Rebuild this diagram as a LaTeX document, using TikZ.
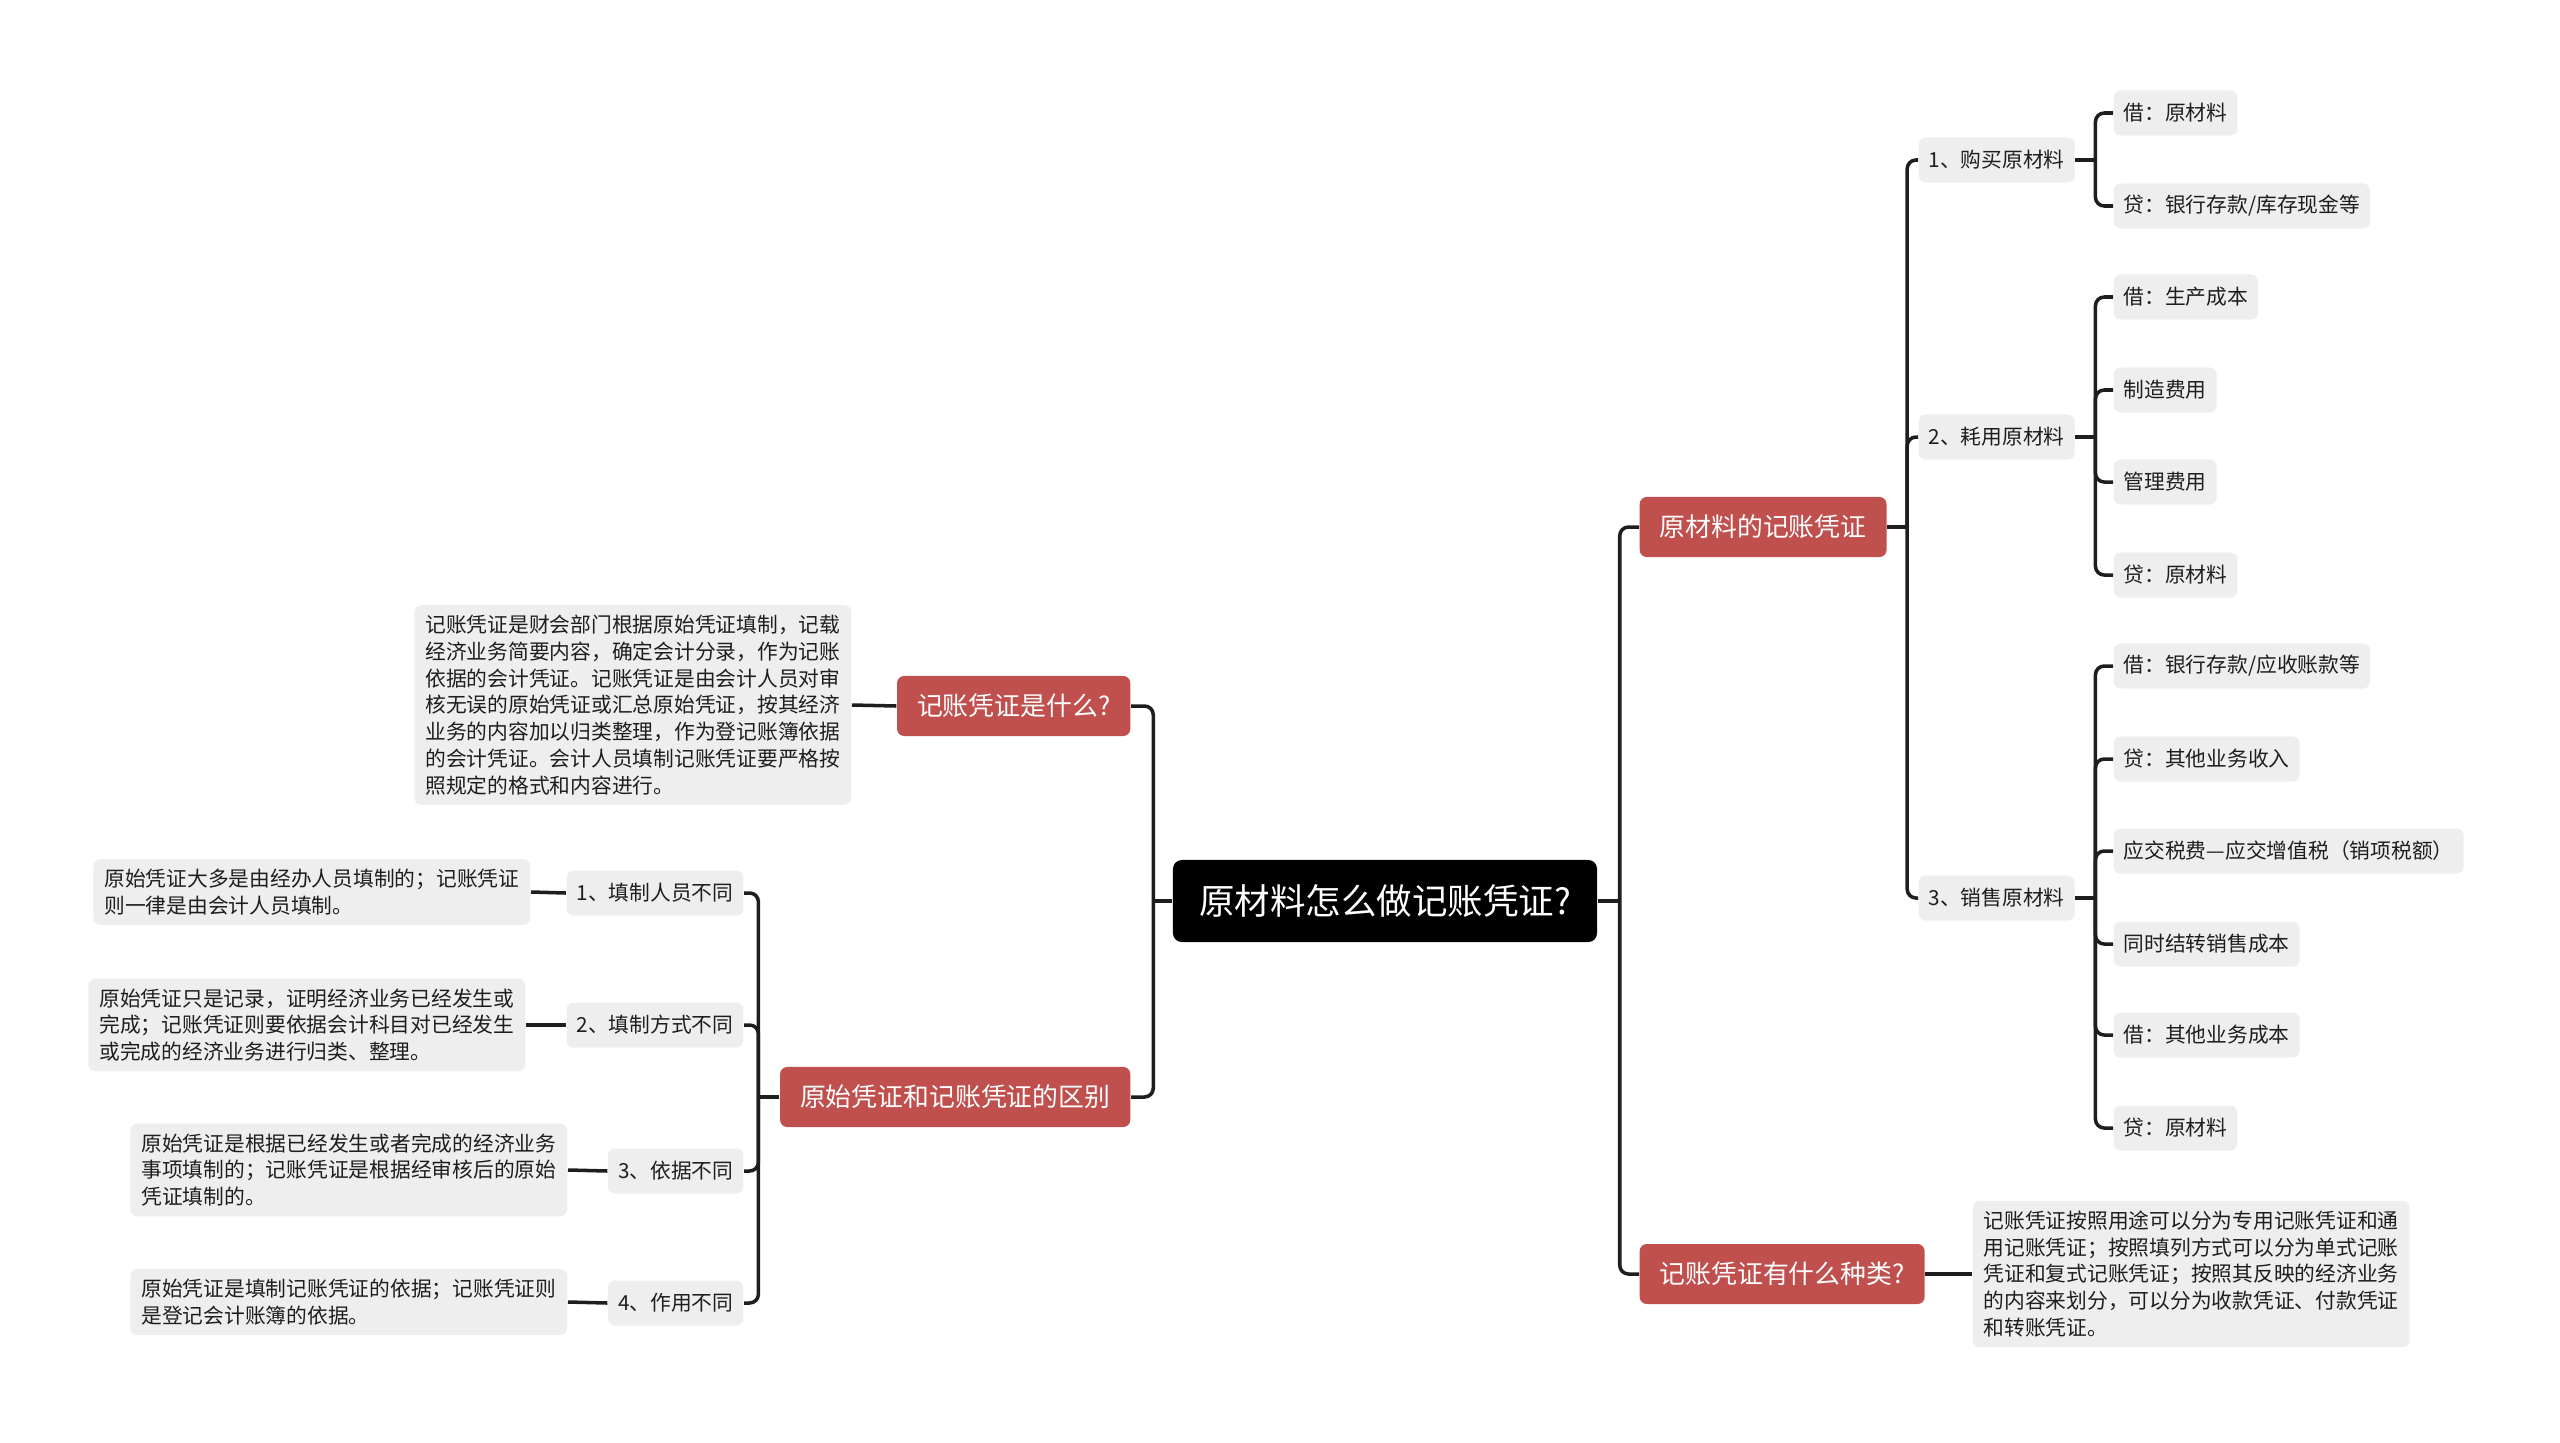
\documentclass[tikz,border=0pt]{standalone}
\usepackage{fontspec}
\setmainfont{Noto Sans CJK SC}
\definecolor{ink}{HTML}{1E1E1E}
\definecolor{rd}{HTML}{C0504D}
\definecolor{lf}{HTML}{EEEEEE}
\tikzset{
  leaf/.style={fill=lf,rounded corners=2pt,inner xsep=0.1cm,inner ysep=0.1cm,minimum height=0.45cm,font=\fontsize{5.9pt}{7.6pt}\selectfont,text=ink},
  desc/.style={leaf,align=left,inner xsep=0.11cm},
  mainb/.style={fill=rd,rounded corners=2pt,text=white,inner xsep=0.2cm,minimum height=0.6cm,font=\fontsize{7.35pt}{9pt}\selectfont},
  rootb/.style={fill=black,rounded corners=2.5pt,text=white,inner xsep=0.26cm,minimum height=0.82cm,font=\fontsize{10.1pt}{12pt}\selectfont},
  link/.style={line width=1pt,draw=ink,rounded corners=2.5pt}
}

\begin{document}
\begin{tikzpicture}[x=0.01cm,y=-0.01cm]
\useasboundingbox (0,0) rectangle (2560,1442);
% ---------------- root and main branches ----------------
\node[rootb] (root) at (1385,901) {原材料怎么做记账凭证?};
\node[mainb,anchor=east] (bwhat) at (1131,706) {记账凭证是什么?};
\node[mainb,anchor=east] (bdiff) at (1131,1097) {原始凭证和记账凭证的区别};
\node[mainb,anchor=west] (bacc) at (1639,527) {原材料的记账凭证};
\node[mainb,anchor=west] (bkind) at (1639,1274) {记账凭证有什么种类?};
\draw[link] (root.west) -- ++(-19,0) coordinate (jl);
\draw[link] (jl) |- (bwhat.east);
\draw[link] (jl) |- (bdiff.east);
\draw[link] (root.east) -- ++(22,0) coordinate (jr);
\draw[link] (jr) |- (bacc.west);
\draw[link] (jr) |- (bkind.west);
% ---------------- left: what is it ----------------
\node[desc,anchor=east] (whatd) at (852,705) {记账凭证是财会部门根据原始凭证填制，记载\\经济业务简要内容，确定会计分录，作为记账\\依据的会计凭证。记账凭证是由会计人员对审\\核无误的原始凭证或汇总原始凭证，按其经济\\业务的内容加以归类整理，作为登记账簿依据\\的会计凭证。会计人员填制记账凭证要严格按\\照规定的格式和内容进行。};
\draw[link] (bwhat.west) -- (whatd.east);
% ---------------- left: differences ----------------
\node[leaf,anchor=east] (d1) at (744,893) {1、填制人员不同};
\node[leaf,anchor=east] (d2) at (744,1025) {2、填制方式不同};
\node[leaf,anchor=east] (d3) at (744,1171) {3、依据不同};
\node[leaf,anchor=east] (d4) at (744,1303) {4、作用不同};
\draw[link] (bdiff.west) -- ++(-21,0) coordinate (jd);
\foreach \n in {d1,d2,d3,d4}{\draw[link] (jd) |- (\n.east);}
\node[desc,anchor=east] (d1t) at (531,892) {原始凭证大多是由经办人员填制的；记账凭证\\则一律是由会计人员填制。};
\node[desc,anchor=east] (d2t) at (526,1025) {原始凭证只是记录，证明经济业务已经发生或\\完成；记账凭证则要依据会计科目对已经发生\\或完成的经济业务进行归类、整理。};
\node[desc,anchor=east] (d3t) at (568,1170) {原始凭证是根据已经发生或者完成的经济业务\\事项填制的；记账凭证是根据经审核后的原始\\凭证填制的。};
\node[desc,anchor=east] (d4t) at (568,1302) {原始凭证是填制记账凭证的依据；记账凭证则\\是登记会计账簿的依据。};
\draw[link] (d1.west) -- (d1t.east);
\draw[link] (d2.west) -- (d2t.east);
\draw[link] (d3.west) -- (d3t.east);
\draw[link] (d4.west) -- (d4t.east);
% ---------------- right: entries ----------------
\node[leaf,anchor=west] (s1) at (1918,160) {1、购买原材料};
\node[leaf,anchor=west] (s2) at (1918,437) {2、耗用原材料};
\node[leaf,anchor=west] (s3) at (1918,898) {3、销售原材料};
\draw[link] (bacc.east) -- ++(20,0) coordinate (ja);
\foreach \n in {s1,s2,s3}{\draw[link] (ja) |- (\n.west);}
\node[leaf,anchor=west] (l11) at (2113,113) {借：原材料};
\node[leaf,anchor=west] (l12) at (2113,206) {贷：银行存款/库存现金等};
\draw[link] (s1.east) -- ++(20,0) coordinate (j1);
\foreach \n in {l11,l12}{\draw[link] (j1) |- (\n.west);}
\node[leaf,anchor=west] (l21) at (2113,297) {借：生产成本};
\node[leaf,anchor=west] (l22) at (2113,390) {制造费用};
\node[leaf,anchor=west] (l23) at (2113,482) {管理费用};
\node[leaf,anchor=west] (l24) at (2113,575) {贷：原材料};
\draw[link] (s2.east) -- ++(20,0) coordinate (j2);
\foreach \n in {l21,l22,l23,l24}{\draw[link] (j2) |- (\n.west);}
\node[leaf,anchor=west] (l31) at (2113,666) {借：银行存款/应收账款等};
\node[leaf,anchor=west] (l32) at (2113,759) {贷：其他业务收入};
\node[leaf,anchor=west] (l33) at (2113,851) {应交税费—应交增值税（销项税额）};
\node[leaf,anchor=west] (l34) at (2113,944) {同时结转销售成本};
\node[leaf,anchor=west] (l35) at (2113,1035) {借：其他业务成本};
\node[leaf,anchor=west] (l36) at (2113,1128) {贷：原材料};
\draw[link] (s3.east) -- ++(20,0) coordinate (j3);
\foreach \n in {l31,l32,l33,l34,l35,l36}{\draw[link] (j3) |- (\n.west);}
% ---------------- right: kinds ----------------
\node[desc,anchor=west] (kindd) at (1972,1274) {记账凭证按照用途可以分为专用记账凭证和通\\用记账凭证；按照填列方式可以分为单式记账\\凭证和复式记账凭证；按照其反映的经济业务\\的内容来划分，可以分为收款凭证、付款凭证\\和转账凭证。};
\draw[link] (bkind.east) -- (kindd.west);
\end{tikzpicture}
\end{document}
